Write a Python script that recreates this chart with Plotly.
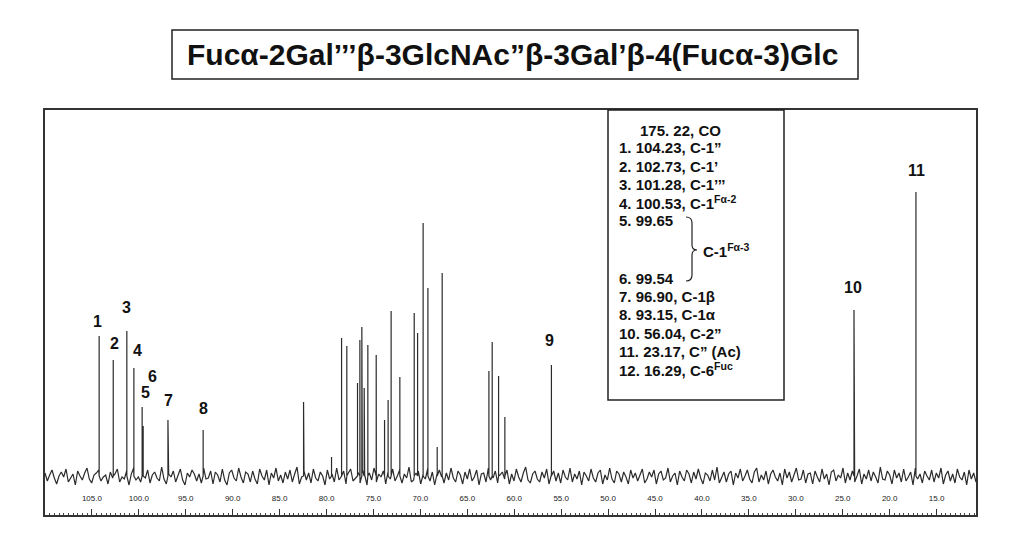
import numpy as np
import plotly.graph_objects as go

# ---------------- data ----------------
TITLE = "Fucα-2Gal’’’β-3GlcNAc”β-3Gal’β-4(Fucα-3)Glc"

# peak positions (ppm) and intensities (arbitrary units, baseline = 0)
PEAK_PPM = [104.23, 102.73, 101.28, 100.53, 99.65, 99.54, 96.90, 93.15,
            82.45, 79.47, 78.40, 77.84, 76.70, 76.45, 76.24, 75.99, 75.60,
            74.71, 73.82, 73.44, 73.12, 72.19, 70.66, 70.30, 69.71, 69.20,
            68.21, 67.68, 62.70, 62.35, 61.67, 61.00, 56.04, 23.80, 17.20]
PEAK_INT = [140, 116, 145, 108, 69, 50, 56, 46,
            74, 19, 138, 130, 93, 136, 149, 88, 131,
            121, 56, 76, 165, 99, 163, 143, 253, 188,
            29, 203, 105, 134, 100, 59, 111, 166, 284]

# baseline noise (arbitrary units), spread evenly across the spectral window
NOISE = [3, -5, 1, 6, -2, -8, 0, 4, -1, 7, -6, -2, 2, -9, 5, 0, -4, 3, 8, -3,
         -7, 1, 3, 6, -5, -1, 1, -8, 4, -2, 2, 7, -6, -1, -3, 5, -9, 2, 8, -4,
         -1, -6, 3, -2, 6, -7, 1, 4, -2, -5, 9, -3, -8, 2, -1, 5, -6, 0, 7, -4,
         -9, 3, -1, 6, 2, -5, 2, -7, 8, -3, -2, 5, -8, 4, 1, -6, 7, -4, -9, 3,
         6, -2, -5, 8, -1, -7, 4, 2, -6, 5, -3, -8, 7, 0, -4, 6, -9, 3, -2, 8,
         -5, 1, -7, 4, -3, 6, -6, 2, 9, -8, -1, 5, -4, 3, -7, 7, -2, -5, 4, 0,
         -9, 6, -3, 2, -6, 8, -4, -1, 5, -8, 3, 7, -5, -2, 4, -7, 6, 1, -9, 3,
         -4, 8, -6, 2, -1, 5, -8, 4, -3, 7, -5, 0, 6, -7, 2, -2, 9, -6, -4, 3,
         5, -8, 1, -3, 7, -5, 4, -9, 2, 6, -1, -7, 3, -4, 8, -2, -6, 5, 1, -8,
         4, -3, 7, -5, -1, 6, -9, 2, 3, -6, 8, -4, -2, 5, -7, 1, 4, -3, 6, -8,
         2, -5, 7, -1, -6, 3, 9, -4, -7, 2, 5, -3, -6, 4, -2, 7, -8, 1, 5, -5,
         3, -7, 6, -1, -4, 8, -6, 2, -3, 5, -9, 4, 0, -5, 7, -2, -6, 3, 6, -8,
         1, -4, 8, -3, -7, 5, 2, -6, 4, -1, -8, 6, -2, 3, -5, 1, 7, -7, -3, 4,
         -1, 6, -8, 2, 5, -4, -2, 8, -6, 0, 3, -9, 5, -1, -5, 6, 2, -7, 4, -3,
         7, -2, -8, 3, 1, -5, 6, -4, 9, -7, -1, 4, -6, 2, 5, -9, 3, -2, 7, -5,
         0, 6, -3, -7, 4, 8, -6, 1, -4, 5, -8, 2, 6, -1, -5, 3, -9, 7, -2, 4,
         -6, 1, 8, -4, -3, 6, -7, 2, 3, -8, 5, -1, -6, 7, -3, 2, -9, 4, 6, -5,
         1, -2, 8, -7, 3, -4, 5, -6, 0, 7, -8, 2, -3, 6, -5, 4, -1, -7, 9, -3,
         -4, 5, 1, -8, 6, -2, 3, -6, 7, -5, -1, 4, -9, 8, -3, 2, -7, 5, 0, -4,
         6, -6, 3, -2, 8, -8, 1, 5, -5, 2, -7, 7, -1, -4, 4, -9, 6, -3, 3, -6]

# peak number labels: text, ppm, height
LABEL_TEXT = ["1", "2", "3", "4", "6", "5", "7", "8", "9", "10", "11"]
LABEL_PPM = [104.41, 102.64, 101.32, 100.15, 98.59, 99.30, 96.81, 93.16, 56.20, 23.87, 17.11]
LABEL_Y = [155, 133, 169, 126, 100, 84, 76, 68, 136, 189, 306]

# assignment table lines
TABLE_LINES = ["175. 22, CO",
               "1. 104.23, C-1”",
               "2. 102.73, C-1’",
               "3. 101.28, C-1’’’",
               "4. 100.53, C-1<sup>Fα-2</sup>",
               "5. 99.65",
               "6. 99.54",
               "7. 96.90, C-1β",
               "8. 93.15, C-1α",
               "10. 56.04, C-2”",
               "11. 23.17, C” (Ac)",
               "12. 16.29, C-6<sup>Fuc</sup>"]
TABLE_Y = [130, 148, 166, 184, 202, 220, 278, 296, 314, 333, 351, 369]
TABLE_X = [638, 617, 617, 617, 617, 617, 617, 617, 617, 617, 617, 617]

# ---------------- build spectrum trace ----------------
X_LEFT, X_RIGHT = 110.0, 10.8
grid = np.linspace(X_LEFT, X_RIGHT, len(NOISE))
pts = [(float(x), float(n)) for x, n in zip(grid, NOISE)]
for p, h in zip(PEAK_PPM, PEAK_INT):
    pts += [(p, 0.0), (p, float(h)), (p, 0.0)]
pts = sorted(pts, key=lambda t: -t[0])
xs = [t[0] for t in pts]
ys = [t[1] for t in pts]

# ---------------- layout geometry (page pixels) ----------------
OFF = 8                      # body margin of the html page
W, H = 1024 - 2 * OFF, 560 - 2 * OFF
L, R, T, B = 45, 976, 110, 515


def px(x):
    return (x - L) / (R - L)


def py(y):
    return (B - y) / (B - T)


FONT = "Liberation Sans, Arial, sans-serif"

fig = go.Figure()
fig.add_trace(go.Scatter(x=xs, y=ys, mode="lines",
                         line=dict(color="#2b2b2b", width=1.2),
                         hoverinfo="skip", showlegend=False))

annotations = []
for t, xv, yv in zip(LABEL_TEXT, LABEL_PPM, LABEL_Y):
    annotations.append(dict(x=xv, y=yv, xref="x", yref="y", text=t,
                            showarrow=False, xanchor="center", yanchor="middle",
                            font=dict(family=FONT, size=16, color="#111", weight="bold")))

# title
annotations.append(dict(x=px(513), y=py(54), xref="paper", yref="paper", text=TITLE,
                        showarrow=False, xanchor="center", yanchor="middle",
                        font=dict(family=FONT, size=30, color="#111", weight="bold")))

for t, xv, yv in zip(TABLE_LINES, TABLE_X, TABLE_Y):
    annotations.append(dict(x=px(xv), y=py(yv), xref="paper", yref="paper", text=t,
                            showarrow=False, xanchor="left", yanchor="middle",
                            font=dict(family=FONT, size=15, color="#111", weight="bold")))
annotations.append(dict(x=px(701), y=py(251), xref="paper", yref="paper",
                        text="C-1<sup>Fα-3</sup>",
                        showarrow=False, xanchor="left", yanchor="middle",
                        font=dict(family=FONT, size=15, color="#111", weight="bold")))

shapes = [
    # title box
    dict(type="rect", xref="paper", yref="paper", x0=px(172), x1=px(858),
         y0=py(79), y1=py(30), line=dict(color="#222", width=1.5)),
    # assignment table box
    dict(type="rect", xref="paper", yref="paper", x0=px(608), x1=px(784),
         y0=py(400), y1=1.0, line=dict(color="#222", width=1.5), fillcolor="white"),
]
# curly brace
bx0, bx1, btip = 686, 692, 697
by0, bmid, by1 = 217, 250, 281
path = (f"M {px(bx0)},{py(by0)} Q {px(bx1)},{py(by0)} {px(bx1)},{py(by0+6)} "
        f"L {px(bx1)},{py(bmid-5)} Q {px(bx1)},{py(bmid)} {px(btip)},{py(bmid)} "
        f"Q {px(bx1)},{py(bmid)} {px(bx1)},{py(bmid+5)} "
        f"L {px(bx1)},{py(by1-6)} Q {px(bx1)},{py(by1)} {px(bx0)},{py(by1)}")
shapes.append(dict(type="path", xref="paper", yref="paper", path=path,
                   line=dict(color="#222", width=1.2)))

fig.update_layout(
    width=W, height=H,
    margin=dict(l=L - OFF, r=(OFF + W) - R, t=T - OFF, b=(OFF + H) - B, pad=0),
    paper_bgcolor="white", plot_bgcolor="white",
    showlegend=False,
    annotations=annotations,
    shapes=shapes,
    xaxis=dict(range=[X_LEFT, X_RIGHT], showgrid=False, zeroline=False,
               showline=True, linecolor="#333", linewidth=1.5, mirror=True,
               ticks="inside", ticklen=6, tickcolor="#333", tickwidth=1,
               dtick=5, tick0=0, tickformat=".1f",
               ticklabelposition="inside", ticklabelstandoff=5,
               tickfont=dict(family=FONT, size=8, color="#222"),
               minor=dict(dtick=0.5, ticks="inside", ticklen=2, tickcolor="#444")),
    yaxis=dict(range=[-39, 366], showgrid=False, zeroline=False,
               showline=True, linecolor="#333", linewidth=1.5, mirror=True,
               showticklabels=False, ticks=""),
)

fig.write_html("out.html")
